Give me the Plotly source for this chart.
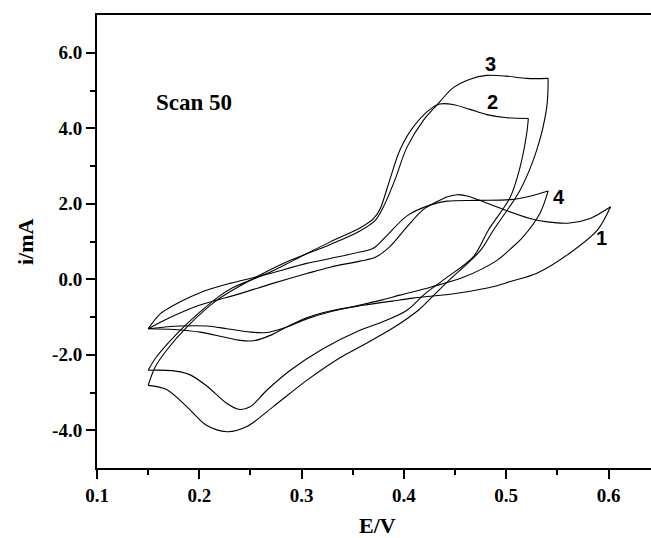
import plotly.graph_objects as go

# ---- data (E in V, i in mA) ----
c1_fwd_E = [0.150, 0.175, 0.200, 0.240, 0.272, 0.305, 0.328, 0.357, 0.372, 0.386, 0.403, 0.419, 0.432, 0.442, 0.452, 0.463, 0.474, 0.497, 0.523, 0.540, 0.562, 0.582, 0.602]
c1_fwd_i = [-1.31, -0.97, -0.69, -0.38, -0.11, 0.15, 0.32, 0.48, 0.58, 0.86, 1.39, 1.85, 2.05, 2.18, 2.24, 2.20, 2.09, 1.85, 1.61, 1.52, 1.49, 1.61, 1.92]
c1_rev_E = [0.602, 0.589, 0.562, 0.530, 0.504, 0.491, 0.452, 0.409, 0.396, 0.360, 0.328, 0.305, 0.285, 0.270, 0.253, 0.240, 0.224, 0.201, 0.175, 0.150]
c1_rev_i = [1.92, 1.30, 0.69, 0.16, -0.06, -0.17, -0.37, -0.50, -0.55, -0.69, -0.84, -1.02, -1.27, -1.48, -1.63, -1.62, -1.53, -1.40, -1.33, -1.31]

c4_fwd_E = [0.150, 0.162, 0.175, 0.191, 0.207, 0.230, 0.263, 0.305, 0.328, 0.357, 0.370, 0.383, 0.403, 0.426, 0.442, 0.471, 0.504, 0.523, 0.541]
c4_fwd_i = [-1.31, -0.91, -0.69, -0.47, -0.29, -0.11, 0.11, 0.42, 0.55, 0.72, 0.82, 1.15, 1.68, 1.97, 2.07, 2.09, 2.11, 2.20, 2.34]
c4_rev_E = [0.541, 0.533, 0.516, 0.504, 0.491, 0.458, 0.426, 0.396, 0.377, 0.328, 0.305, 0.285, 0.266, 0.250, 0.227, 0.207, 0.181, 0.150]
c4_rev_i = [2.34, 1.75, 1.11, 0.80, 0.50, 0.05, -0.21, -0.42, -0.56, -0.86, -1.05, -1.27, -1.41, -1.40, -1.31, -1.24, -1.24, -1.31]

c2_fwd_E = [0.150, 0.158, 0.175, 0.201, 0.220, 0.233, 0.266, 0.292, 0.328, 0.357, 0.370, 0.3765, 0.386, 0.396, 0.409, 0.4255, 0.435, 0.448, 0.4646, 0.481, 0.5005, 0.5216]
c2_fwd_i = [-2.41, -2.06, -1.53, -0.86, -0.44, -0.22, 0.15, 0.50, 0.99, 1.36, 1.60, 1.85, 2.62, 3.42, 4.03, 4.50, 4.64, 4.63, 4.50, 4.36, 4.28, 4.26]
c2_rev_E = [0.5216, 0.520, 0.5135, 0.504, 0.4825, 0.468, 0.438, 0.420, 0.403, 0.380, 0.357, 0.321, 0.289, 0.266, 0.2496, 0.2398, 0.227, 0.207, 0.190, 0.173, 0.150]
c2_rev_i = [4.26, 3.86, 2.97, 2.18, 1.30, 0.60, -0.03, -0.40, -0.82, -1.12, -1.35, -1.84, -2.41, -2.94, -3.38, -3.45, -3.29, -2.82, -2.52, -2.42, -2.41]

c3_fwd_E = [0.150, 0.157, 0.168, 0.188, 0.217, 0.2496, 0.282, 0.328, 0.357, 0.372, 0.380, 0.391, 0.403, 0.419, 0.435, 0.448, 0.4646, 0.481, 0.5005, 0.520, 0.541]
c3_fwd_i = [-2.81, -2.32, -1.88, -1.26, -0.56, -0.03, 0.42, 0.92, 1.28, 1.56, 1.92, 2.62, 3.50, 4.21, 4.70, 5.07, 5.30, 5.40, 5.38, 5.32, 5.32]
c3_rev_E = [0.541, 0.5396, 0.5298, 0.5135, 0.4874, 0.4744, 0.444, 0.430, 0.414, 0.390, 0.357, 0.3375, 0.305, 0.272, 0.246, 0.227, 0.207, 0.188, 0.168, 0.150]
c3_rev_i = [5.32, 4.56, 3.42, 2.36, 1.30, 0.75, -0.03, -0.40, -0.82, -1.28, -1.79, -2.08, -2.68, -3.38, -3.91, -4.04, -3.87, -3.38, -2.92, -2.81]

curve_labels = ["1", "2", "3", "4"]
label_E = [0.5936, 0.4864, 0.4849, 0.5513]
label_i = [1.10, 4.69, 5.71, 2.17]

x_tickvals = [0.1, 0.2, 0.3, 0.4, 0.5, 0.6]
x_ticktext = ["0.1", "0.2", "0.3", "0.4", "0.5", "0.6"]
x_minor = [0.15, 0.25, 0.35, 0.45, 0.55]
y_tickvals = [-4, -2, 0, 2, 4, 6]
y_ticktext = ["-4.0", "-2.0", "0.0", "2.0", "4.0", "6.0"]
y_minor = [-3, -1, 1, 3, 5]

fig = go.Figure()
branches = [
    (c1_fwd_E, c1_fwd_i), (c1_rev_E, c1_rev_i),
    (c2_fwd_E, c2_fwd_i), (c2_rev_E, c2_rev_i),
    (c3_fwd_E, c3_fwd_i), (c3_rev_E, c3_rev_i),
    (c4_fwd_E, c4_fwd_i), (c4_rev_E, c4_rev_i),
]
for xs, ys in branches:
    fig.add_trace(go.Scatter(x=xs, y=ys, mode="lines",
                             line=dict(color="black", width=1.1, shape="spline", smoothing=0.9),
                             showlegend=False, hoverinfo="skip"))

serif = "Liberation Serif, Times New Roman, serif"
sans = "Liberation Sans, Arial, sans-serif"

for t, xe, yi in zip(curve_labels, label_E, label_i):
    fig.add_annotation(x=xe, y=yi, text="<b>" + t + "</b>", showarrow=False, xref="x", yref="y",
                       xanchor="center", yanchor="middle",
                       font=dict(family=sans, size=20, color="black"))

fig.add_annotation(x=0.1948, y=4.69, text="<b>Scan 50</b>", showarrow=False, xref="x", yref="y",
                   xanchor="center", yanchor="middle",
                   font=dict(family=serif, size=23, color="black"))
fig.add_annotation(x=-0.13, y=0.501, xref="paper", yref="paper", text="<b>i/mA</b>", textangle=-90,
                   xanchor="center", yanchor="middle",
                   showarrow=False, font=dict(family=serif, size=22, color="black"))
fig.add_annotation(x=0.507, y=-0.128, xref="paper", yref="paper", text="<b>E/V</b>",
                   xanchor="center", yanchor="middle", borderpad=0,
                   showarrow=False, font=dict(family=serif, size=22, color="black"))

axis_common = dict(showline=True, linecolor="black", linewidth=2, ticks="outside",
                   ticklen=9, tickwidth=2, tickcolor="black", showgrid=False, zeroline=False,
                   tickfont=dict(family=serif, size=19, color="black"))

fig.update_xaxes(range=[0.1, 0.6415], tickmode="array", tickvals=x_tickvals,
                 ticktext=["<b>" + t + "</b>" for t in x_ticktext],
                 mirror=True,
                 minor=dict(tickvals=x_minor, ticks="outside", ticklen=5, tickwidth=2, tickcolor="black"),
                 **axis_common)
fig.update_yaxes(range=[-5, 7], tickmode="array", tickvals=y_tickvals,
                 ticktext=["<b>" + t + "</b>" for t in y_ticktext],
                 minor=dict(tickvals=y_minor, ticks="outside", ticklen=5, tickwidth=2, tickcolor="black"),
                 **axis_common)

fig.update_layout(width=651, height=538, margin=dict(l=97, r=0, t=15, b=70),
                  plot_bgcolor="white", paper_bgcolor="white")

fig.write_html("out.html", config={"displayModeBar": False},
               post_script="document.body.style.margin='0';document.body.style.overflow='hidden';")
